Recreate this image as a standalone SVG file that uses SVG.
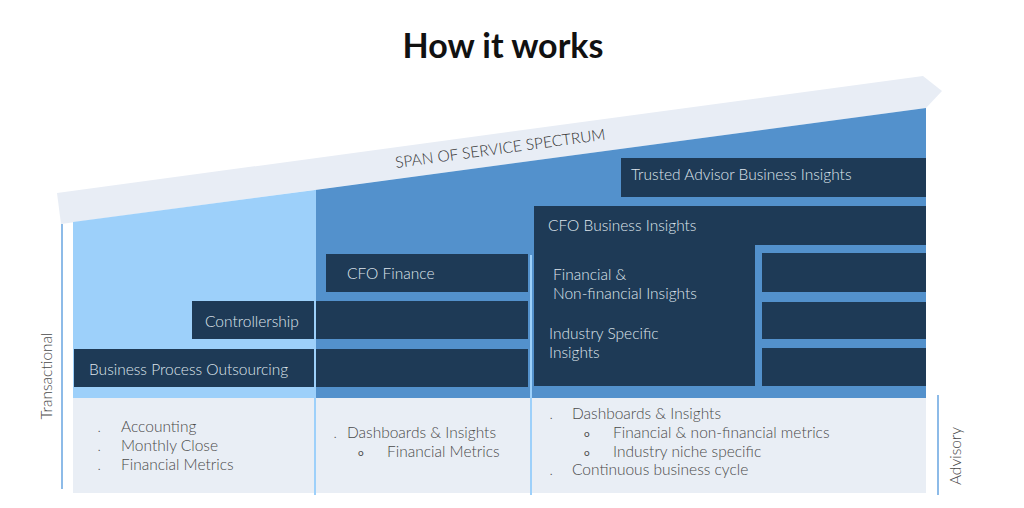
<svg xmlns="http://www.w3.org/2000/svg" width="1024" height="508" viewBox="0 0 1024 508">
<style>
.t{font-family:Lato,"Liberation Sans",sans-serif;font-weight:300;font-size:15.5px}
.lt{fill:#dfe5ec}
.dk{fill:#4a4a4a}
.box{fill:#1e3a56}
.sm{font-family:Lato,"Liberation Sans",sans-serif;font-size:10px;fill:#4a4a4a}
</style>
<rect width="1024" height="508" fill="#ffffff"/>
<text x="503" y="58" text-anchor="middle" style="font-family:Lato,'Liberation Sans',sans-serif;font-weight:700;font-size:34px" fill="#111">How it works</text>
<g id="band">
<polygon points="57,193 923,76 942,91 926,108 61,224" fill="#e8edf5"/>
<text class="t" transform="translate(396,168) rotate(-7.7)" fill="#333">SPAN OF SERVICE SPECTRUM</text>
</g>
<g id="background">
<polygon points="73,222 315,190 315,398 73,398" fill="#9dd0fa"/>
<polygon points="315,190 926,108 926,398 315,398" fill="#5391cc"/>
<rect x="73" y="398" width="853" height="95" fill="#e9eef5"/>
</g>
<g id="node-trusted">
<rect class="box" x="621" y="158" width="305" height="39"/>
<text class="t lt" x="631" y="180">Trusted Advisor Business Insights</text>
</g>
<g id="node-cfo-bi">
<polygon class="box" points="534,206 926,206 926,245 755,245 755,386 534,386"/>
<text class="t lt" x="548" y="231">CFO Business Insights</text>
<text class="t lt" x="553" y="280">Financial &amp;</text>
<text class="t lt" x="553" y="299">Non-financial Insights</text>
<text class="t lt" x="549" y="339">Industry Specific</text>
<text class="t lt" x="549" y="358">Insights</text>
</g>
<g id="node-cfo-bi-rows">
<rect class="box" x="762" y="253" width="164" height="39"/>
<rect class="box" x="762" y="302" width="164" height="37"/>
<rect class="box" x="762" y="348" width="164" height="38"/>
</g>
<g id="node-cfo-finance">
<rect class="box" x="326" y="254" width="202" height="38"/>
<text class="t lt" x="347" y="279">CFO Finance</text>
</g>
<g id="node-controllership">
<rect class="box" x="192" y="301" width="336" height="38"/>
<text class="t lt" x="205" y="327">Controllership</text>
</g>
<g id="node-bpo">
<rect class="box" x="74" y="349" width="454" height="38"/>
<text class="t lt" x="89" y="375">Business Process Outsourcing</text>
</g>
<g id="connectors" stroke-width="2" fill="none">
<line x1="315" y1="190" x2="315" y2="495" stroke="#9dd0fa"/>
<line x1="531" y1="255" x2="531" y2="495" stroke="#9dd0fa"/>
<line x1="62" y1="224" x2="62" y2="489" stroke="#8dbbe8"/>
<line x1="938" y1="395" x2="938" y2="495" stroke="#8dbbe8"/>
</g>
<g id="col1">
<text class="sm" x="98" y="432">.</text>
<text class="sm" x="98" y="451">.</text>
<text class="sm" x="98" y="470">.</text>
<text class="t dk" x="121" y="432">Accounting</text>
<text class="t dk" x="121" y="451">Monthly Close</text>
<text class="t dk" x="121" y="470">Financial Metrics</text>
</g>
<g id="col2">
<text class="sm" x="334" y="438">.</text>
<text class="t dk" x="347" y="438">Dashboards &amp; Insights</text>
<text class="sm" x="358" y="456">o</text>
<text class="t dk" x="387" y="457">Financial Metrics</text>
</g>
<g id="col3">
<text class="sm" x="550" y="419">.</text>
<text class="t dk" x="572" y="419">Dashboards &amp; Insights</text>
<text class="sm" x="584" y="437">o</text>
<text class="t dk" x="613" y="438">Financial &amp; non-financial metrics</text>
<text class="sm" x="584" y="456">o</text>
<text class="t dk" x="613" y="457">Industry niche specific</text>
<text class="sm" x="550" y="475">.</text>
<text class="t dk" x="572" y="475">Continuous business cycle</text>
</g>
<g id="axis-labels">
<text class="t dk" transform="translate(52,376) rotate(-90)" text-anchor="middle">Transactional</text>
<text class="t dk" transform="translate(961,456) rotate(-90)" text-anchor="middle">Advisory</text>
</g>
</svg>
